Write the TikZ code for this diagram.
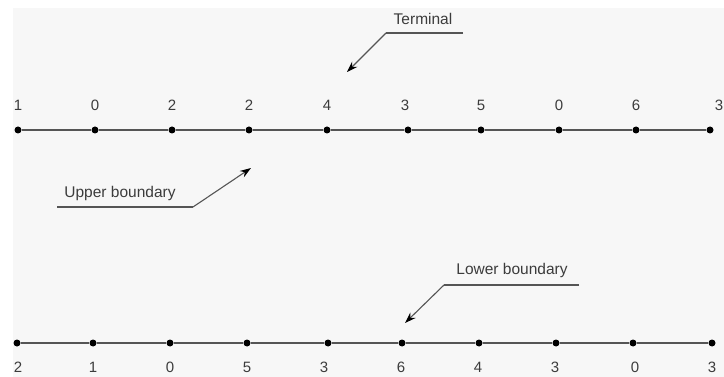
\documentclass[tikz,border=0pt]{standalone}
\usepackage{fontspec}
\setmainfont{Liberation Sans}
\usepackage{xcolor}
\usetikzlibrary{positioning, arrows.meta}
\definecolor{bggray}{HTML}{F7F7F7}
\definecolor{txtgray}{HTML}{3C3C3C}
\definecolor{linegray}{HTML}{555555}

\begin{document}
\begin{tikzpicture}[
  x=1pt, y=-1pt,
  dot/.style={circle, fill=black, inner sep=0pt, minimum size=7pt},
  val/.style={text=txtgray, inner sep=0pt, font=\fontsize{15}{17}\selectfont},
  tag/.style={text=txtgray, inner sep=0pt, font=\fontsize{15.5}{18}\selectfont},
  rail/.style={draw=linegray, line width=1.8pt},
  lead/.style={draw=linegray, line width=1.1pt},
  arr/.style={-{Stealth[length=11pt, width=7.5pt, black]}, draw=linegray, line width=1.1pt}
]
\useasboundingbox (0,0) rectangle (724,377);
\fill[bggray] (13,8) rectangle (724,377);

% upper row
\foreach \x/\lx/\v [count=\i] in {18/18/1, 95/95/0, 172/172/2, 249/249/2, 327/327/4,
    408/405/3, 481/481/5, 559/559/0, 636/636/6, 710/719/3} {
  \node[dot] (u\i) at (\x,130) {};
  \node[val] (uv\i) at (\lx,105) {\v};
}
\foreach \i [remember=\i as \j (initially 1)] in {2,...,10}
  \draw[rail] (u\j) -- (u\i);

% lower row
\foreach \x/\lx/\v [count=\i] in {17/18/2, 93/93/1, 170/170/0, 247/247/5, 328/324/3,
    402/401/6, 479/478/4, 556/555/3, 633/635/0, 712/712/3} {
  \node[dot] (l\i) at (\x,343) {};
  \node[val] (lv\i) at (\lx,367) {\v};
}
\foreach \i [remember=\i as \j (initially 1)] in {2,...,10}
  \draw[rail] (l\j) -- (l\i);

% callouts
\node[tag] (term) at (423,19) {Terminal};
\coordinate (term-end) at (463,33);
\coordinate (term-knee) at (386,33);
\coordinate (term-tip) at (347,72);
\draw[lead] (term-end) -- (term-knee);
\draw[arr] (term-knee) -- (term-tip);

\node[tag] (upper) at (120,193) {Upper boundary};
\coordinate (upper-end) at (57,207);
\coordinate (upper-knee) at (193,207);
\coordinate (upper-tip) at (251,168);
\draw[lead] (upper-end) -- (upper-knee);
\draw[arr] (upper-knee) -- (upper-tip);

\node[tag] (lower) at (512,270) {Lower boundary};
\coordinate (lower-end) at (579,285);
\coordinate (lower-knee) at (444,285);
\coordinate (lower-tip) at (405,323);
\draw[lead] (lower-end) -- (lower-knee);
\draw[arr] (lower-knee) -- (lower-tip);
\end{tikzpicture}
\end{document}
